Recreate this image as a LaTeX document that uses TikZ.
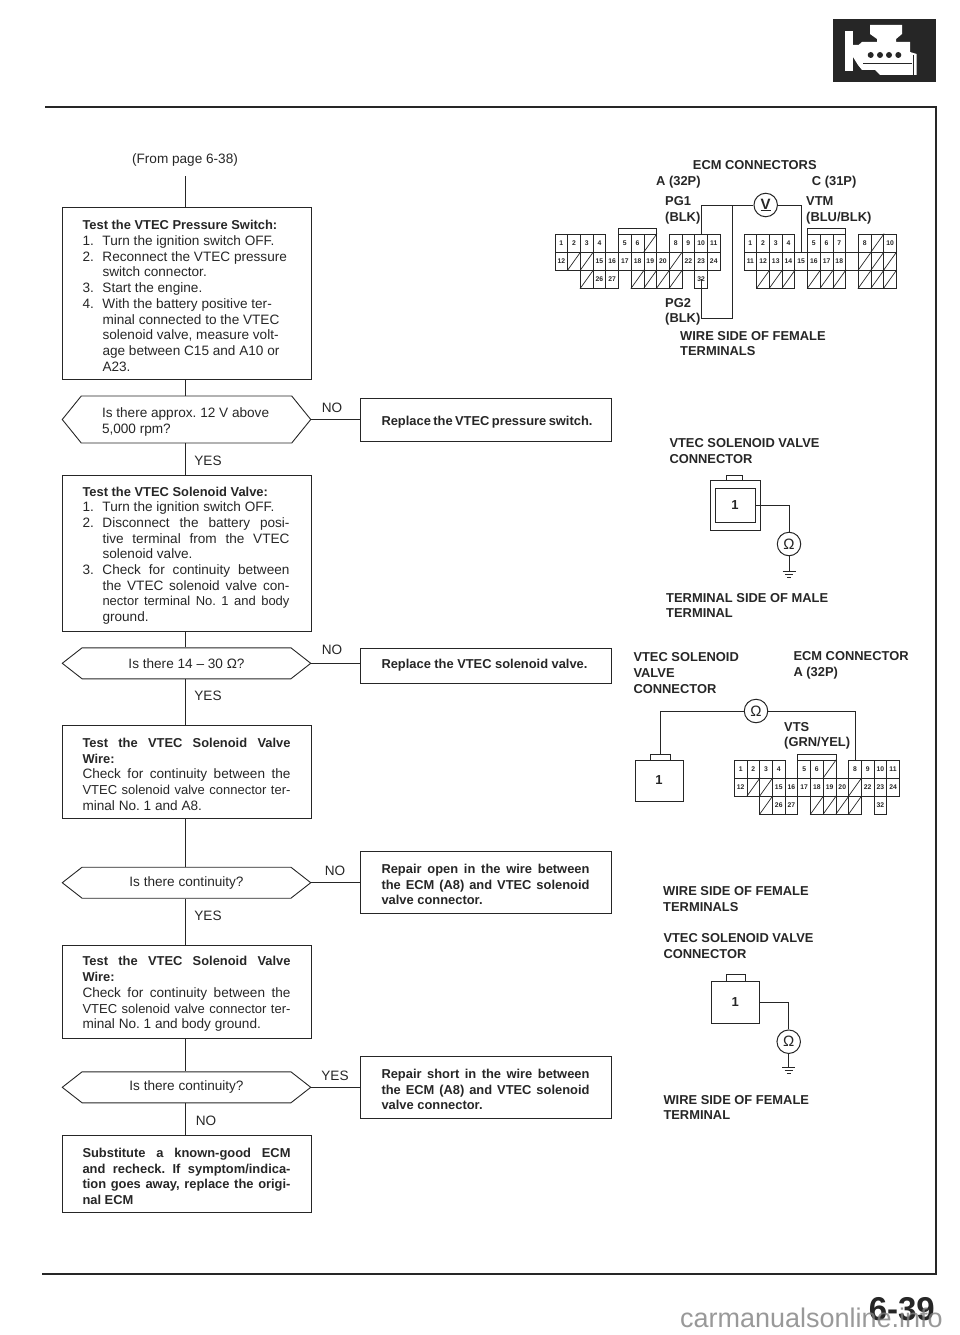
\documentclass[tikz,border=0pt]{standalone}
\usepackage{fontspec}
\setmainfont{Liberation Sans}
\usetikzlibrary{shapes.symbols}
\definecolor{ink}{RGB}{38,38,38}
\definecolor{mark}{RGB}{128,128,128}

\newcommand{\HD}[1]{{\fontsize{12.9}{15.7}\selectfont\bfseries #1}}
\newcommand{\TG}[1]{{\fontsize{13}{15.7}\selectfont #1}}
\newcommand{\FL}[1]{\makebox[208pt][s]{#1}}
\newcommand{\SQ}[1]{\makebox[206pt][s]{#1}}
\newcommand{\NI}[2]{\makebox[20pt][l]{#1}#2}
\newcommand{\NJ}[2]{\makebox[20pt][l]{#1}\makebox[187pt][s]{#2}}
\newcommand{\HI}[1]{\hspace*{20pt}#1}
\newcommand{\HJ}[1]{\hspace*{20pt}\makebox[187pt][s]{#1}}

\tikzset{
  pushdown/.style={execute at begin node={\rule{0pt}{14.5pt}}},
  flowbox/.style={draw,rectangle,line width=.9pt,text width=208pt,inner xsep=20.5pt,
    inner ysep=0pt,align=flush left,minimum height=#1,pushdown,
    font=\fontsize{13.6}{15.7}\selectfont},
  fixbox/.style={draw,rectangle,line width=.9pt,text width=208pt,inner xsep=21.5pt,
    inner ysep=0pt,align=flush left,minimum height=#1,
    font=\fontsize{12.9}{15.7}\selectfont\bfseries},
  hexbox/.style={draw,signal,signal to=east and west,signal pointer angle=#1,
    line width=.9pt,inner sep=0pt,minimum width=248.5pt,align=flush left,
    font=\fontsize{13.6}{15.7}\selectfont},
  answer/.style={font=\fontsize{13.6}{15.7}\selectfont,inner sep=0pt},
  caption/.style={anchor=west,inner sep=0pt,align=left,
    font=\fontsize{12.9}{15.6}\selectfont\bfseries},
  wire/.style={line width=.9pt},
  pincell/.style={draw,rectangle,line width=.8pt,minimum width=12.7pt,minimum height=18.1pt,
    inner sep=0pt,font=\fontsize{6.8}{7}\selectfont\bfseries},
  plainbox/.style={draw,rectangle,line width=1pt,inner sep=0pt,
    font=\fontsize{13}{15}\selectfont\bfseries},
  meter/.style={draw,circle,line width=1pt,minimum size=23.5pt,inner sep=0pt,fill=white,
    font=\fontsize{15}{16}\selectfont},
}

%% ECM connector A (32P), cells named after their pins
\newcommand{\ACONN}[3]{
  \begin{scope}[shift={(#2,#3)}]
    \foreach \c/\r/\t in {0/0/1,1/0/2,2/0/3,3/0/4,5/0/5,6/0/6,9/0/8,10/0/9,11/0/10,12/0/11,
      0/1/12,3/1/15,4/1/16,5/1/17,6/1/18,7/1/19,8/1/20,10/1/22,11/1/23,12/1/24,
      3/2/26,4/2/27,11/2/32}
      \node[pincell] (#1\t) at (12.7*\c+6.35,18.1*\r+9.05) {\t};
    \foreach \c/\r in {7/0,1/1,2/1,9/1,2/2,6/2,7/2,8/2,9/2}{
      \node[pincell] (#1x\c\r) at (12.7*\c+6.35,18.1*\r+9.05) {};
      \draw[line width=.7pt] (#1x\c\r.south west) -- (#1x\c\r.north east);
    }
    \node[pincell,minimum width=38.1pt,minimum height=6pt] (#1hood) at (82.55,-3) {};
  \end{scope}
}

\begin{document}
\frenchspacing
\begin{tikzpicture}[x=1pt,y=-1pt,color=ink]

  \useasboundingbox (0,0) rectangle (960,1335);

  %% page frame
  \coordinate (frameA) at (45,107);
  \coordinate (frameB) at (936,107);
  \coordinate (frameC) at (936,1274);
  \coordinate (frameD) at (42,1274);
  \draw[line width=1.5pt] (frameA) -- (frameB) -- (frameC) -- (frameD);

  %% engine icon
  \fill (833,19) rectangle (936,82);
  \fill[white] (845,30.7) rectangle (853.3,70.7);
  \fill[white] (853,45) -- (858.5,45) -- (862,42) -- (877,42) -- (877,39) -- (870,34)
  -- (870,25) -- (902,25) -- (902,34) -- (896,39) -- (896,42) -- (910,42) -- (910,52)
  -- (916.7,54) -- (916.7,75) -- (880,75) -- (875,70) -- (862,70) -- (858,65) -- (853,57)
  -- cycle;
  \foreach \x in {870.7,880,889,898.3}
    \fill (\x,55) circle (3);
  \draw[line width=1.2pt] (863.3,63.3) -- (912,63.3);
  \draw[line width=1.2pt] (913.5,55) -- (913.5,75);

  %% flow column
  \coordinate (spine) at (185,0);
  \node[inner sep=0pt,font=\fontsize{13.6}{15.7}\selectfont] (fromA) at (185,160) {(From page 6-38)};
  \coordinate (startA) at (185,176);

  \node[flowbox=171.3pt] (boxA) at (186.5,293.3) {%
    \HD{Test the VTEC Pressure Switch:}\\
    \NI{1.}{Turn the ignition switch OFF.}\\
    \NI{2.}{Reconnect the VTEC pressure}\\
    \HI{switch connector.}\\
    \NI{3.}{Start the engine.}\\
    \NI{4.}{With the battery positive ter-}\\
    \HI{minal connected to the VTEC}\\
    \HI{solenoid valve, measure volt-}\\
    \HI{age between C15 and A10 or}\\
    \HI{A23.}};

  \node[hexbox=102,minimum height=47pt,text width=169pt,pushdown] (hexA) at (186.5,419.5) {%
    Is there approx. 12 V above\\5,000 rpm?};

  \node[flowbox=156pt] (boxB) at (186.5,553) {%
    \HD{Test the VTEC Solenoid Valve:}\\
    \NI{1.}{Turn the ignition switch OFF.}\\
    \NJ{2.}{Disconnect the battery posi-}\\
    \HJ{tive terminal from the VTEC}\\
    \HI{solenoid valve.}\\
    \NJ{3.}{Check for continuity between}\\
    \HJ{the VTEC solenoid valve con-}\\
    \HJ{\TG{nector terminal No. 1 and body}}\\
    \HI{ground.}};

  \node[hexbox=76,minimum height=31pt] (hexB) at (186.5,663.3) {Is there 14 – 30 Ω?};

  \node[flowbox=93.3pt] (boxC) at (186.5,771.6) {%
    \FL{\HD{Test the VTEC Solenoid Valve}}\\
    \HD{Wire:}\\
    \FL{Check for continuity between the}\\
    \FL{\TG{VTEC solenoid valve connector ter-}}\\
    minal No. 1 and A8.};

  \node[hexbox=76,minimum height=31pt] (hexC) at (186.5,882.7) {Is there continuity?};

  \node[flowbox=93pt] (boxD) at (186.5,991.5) {%
    \FL{\HD{Test the VTEC Solenoid Valve}}\\
    \HD{Wire:}\\
    \FL{Check for continuity between the}\\
    \FL{\TG{VTEC solenoid valve connector ter-}}\\
    minal No. 1 and body ground.};

  \node[hexbox=76,minimum height=31pt] (hexD) at (186.5,1087.3) {Is there continuity?};

  \node[flowbox=77.7pt] (boxE) at (186.5,1173.8) {%
    \FL{\HD{Substitute a known-good ECM}}\\
    \FL{\HD{and recheck. If symptom/indica-}}\\
    \FL{\HD{tion goes away, replace the origi-}}\\
    \HD{nal ECM}};

  %% fix boxes
  \node[fixbox=43pt,pushdown] (fixA) at (485.5,419.5) {\SQ{Replace the VTEC pressure switch.}};
  \node[fixbox=35pt] (fixB) at (485.5,665.5) {\SQ{Replace the VTEC solenoid valve.}};
  \node[fixbox=62pt,pushdown] (fixC) at (485.5,882) {%
    \FL{Repair open in the wire between}\\
    \FL{the ECM (A8) and VTEC solenoid}\\
    valve connector.};
  \node[fixbox=62pt,pushdown] (fixD) at (485.5,1087) {%
    \FL{Repair short in the wire between}\\
    \FL{the ECM (A8) and VTEC solenoid}\\
    valve connector.};

  %% flow lines
  \draw[wire] (startA) -- (boxA.north -| spine);
  \draw[wire] (boxA.south -| spine) -- (hexA.north -| spine);
  \draw[wire] (hexA.south -| spine) -- (boxB.north -| spine);
  \draw[wire] (boxB.south -| spine) -- (hexB.north -| spine);
  \draw[wire] (hexB.south -| spine) -- (boxC.north -| spine);
  \draw[wire] (boxC.south -| spine) -- (hexC.north -| spine);
  \draw[wire] (hexC.south -| spine) -- (boxD.north -| spine);
  \draw[wire] (boxD.south -| spine) -- (hexD.north -| spine);
  \draw[wire] (hexD.south -| spine) -- (boxE.north -| spine);
  \draw[wire] (hexA.east) -- (hexA.east -| fixA.west);
  \draw[wire] (hexB.east) -- (hexB.east -| fixB.west);
  \draw[wire] (hexC.east) -- (hexC.east -| fixC.west);
  \draw[wire] (hexD.east) -- (hexD.east -| fixD.west);

  %% answers
  \node[answer] (ansA) at (332,408) {NO};
  \node[answer] (ansB) at (208,461) {YES};
  \node[answer] (ansC) at (332,650) {NO};
  \node[answer] (ansD) at (208,696) {YES};
  \node[answer] (ansE) at (335,870.7) {NO};
  \node[answer] (ansF) at (208,915.7) {YES};
  \node[answer] (ansG) at (335,1076) {YES};
  \node[answer] (ansH) at (206,1120.7) {NO};

  %% ECM connectors, A and C
  \node[caption] (capA) at (692.7,165) {ECM CONNECTORS};
  \node[caption] (capB) at (656,182.3) {A (32P)};
  \node[caption] (capC) at (811.7,182.3) {C (31P)};
  \node[caption] (capD) at (665,210.2) {PG1\\(BLK)};
  \node[caption] (capE) at (806,210.2) {VTM\\(BLU/BLK)};
  \node[caption] (capF) at (665,311.8) {PG2\\(BLK)};
  \node[caption] (capG) at (680,343.5) {WIRE SIDE OF FEMALE\\TERMINALS};

  \ACONN{pA}{555}{234}

  \begin{scope}[shift={(744,234)}]
    \foreach \c/\r/\t in {0/0/1,1/0/2,2/0/3,3/0/4,5/0/5,6/0/6,7/0/7,9/0/8,11/0/10,
      0/1/11,1/1/12,2/1/13,3/1/14,4/1/15,5/1/16,6/1/17,7/1/18}
      \node[pincell] (pC\t) at (12.7*\c+6.35,18.1*\r+9.05) {\t};
    \node[pincell] (pCblank) at (12.7*8+6.35,27.15) {};
    \foreach \c/\r in {10/0,9/1,10/1,11/1,1/2,2/2,3/2,5/2,6/2,7/2,9/2,10/2,11/2}{
      \node[pincell] (pCx\c\r) at (12.7*\c+6.35,18.1*\r+9.05) {};
      \draw[line width=.7pt] (pCx\c\r.south west) -- (pCx\c\r.north east);
    }
    \node[pincell,minimum width=38.1pt,minimum height=6pt] (pChood) at (82.55,-3) {};
  \end{scope}

  \node[meter] (mtrV) at (765.7,205) {\bfseries\underline{V}};
  \coordinate (jntA) at (732,205);
  \coordinate (jogA) at (732,318);
  \draw[wire] (mtrV.west) -| (pA10.north);
  \draw[wire] (mtrV.east) -| (pC15.north);
  \draw[wire] (jntA) -- (jogA) -| (pA32.center);

  %% solenoid valve, terminal side
  \node[caption] (capH) at (669.3,451) {VTEC SOLENOID VALVE\\CONNECTOR};
  \node[plainbox,minimum width=50pt,minimum height=50pt] (conB) at (735,505) {};
  \node[plainbox,minimum width=40pt,minimum height=34.4pt] (conBin) at (735,505.5) {1};
  \node[plainbox,minimum width=16pt,minimum height=5pt] (tabB) at (734.7,477.5) {};
  \node[meter] (ohmB) at (789,544) {Ω};
  \coordinate (gndB) at (789,571.7);
  \draw[wire] (conBin.east) -| (ohmB.north);
  \draw[wire] (ohmB.south) -- (gndB);
  \draw[wire] ([xshift=-6.5pt]gndB) -- ([xshift=6.5pt]gndB);
  \draw[wire] ([xshift=-4pt,yshift=-3pt]gndB) -- ([xshift=4pt,yshift=-3pt]gndB);
  \draw[wire] ([xshift=-1.8pt,yshift=-6pt]gndB) -- ([xshift=1.8pt,yshift=-6pt]gndB);
  \node[caption] (capI) at (666,605.5) {TERMINAL SIDE OF MALE\\TERMINAL};

  %% solenoid valve to ECM connector A
  \node[caption] (capJ) at (633.3,673) {VTEC SOLENOID\\VALVE\\CONNECTOR};
  \node[caption] (capK) at (793.3,665.3) {ECM CONNECTOR\\A (32P)};
  \node[caption] (capL) at (784,736) {VTS\\(GRN/YEL)};
  \node[plainbox,minimum width=48pt,minimum height=41pt] (conC) at (659,780.5) {1};
  \node[plainbox,minimum width=20pt,minimum height=6pt] (tabC) at (660,757) {};

  \ACONN{pD}{734.3}{760}

  \node[meter] (ohmC) at (756,711) {Ω};
  \draw[wire] (ohmC.west) -| (tabC.north);
  \draw[wire] (ohmC.east) -| (pD8.north);
  \node[caption] (capM) at (663,899) {WIRE SIDE OF FEMALE\\TERMINALS};

  %% solenoid valve, wire side
  \node[caption] (capN) at (663.3,946) {VTEC SOLENOID VALVE\\CONNECTOR};
  \node[plainbox,minimum width=48.3pt,minimum height=41.6pt] (conD) at (735.2,1002.5) {1};
  \node[plainbox,minimum width=19pt,minimum height=6.7pt] (tabD) at (735.5,978.3) {};
  \node[meter] (ohmD) at (788.7,1041.7) {Ω};
  \coordinate (gndD) at (788.7,1067.7);
  \draw[wire] (conD.east) -| (ohmD.north);
  \draw[wire] (ohmD.south) -- (gndD);
  \draw[wire] ([xshift=-6.5pt]gndD) -- ([xshift=6.5pt]gndD);
  \draw[wire] ([xshift=-4pt,yshift=-3pt]gndD) -- ([xshift=4pt,yshift=-3pt]gndD);
  \draw[wire] ([xshift=-1.8pt,yshift=-6pt]gndD) -- ([xshift=1.8pt,yshift=-6pt]gndD);
  \node[caption] (capO) at (663.3,1107.5) {WIRE SIDE OF FEMALE\\TERMINAL};

  %% page number and site mark
  \node[anchor=east,inner sep=0pt,font=\fontsize{33}{35}\selectfont\bfseries] (pageno) at (935,1309) {6-39};
  \node[anchor=east,inner sep=0pt,text=mark,opacity=.8,font=\fontsize{27}{30}\selectfont] (site) at (943,1318) {carmanualsonline.info};

\end{tikzpicture}
\end{document}
